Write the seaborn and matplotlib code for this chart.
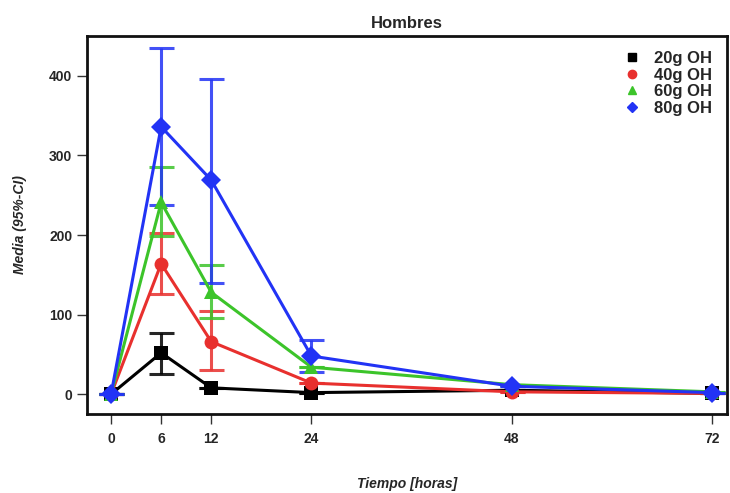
import numpy as np
import pandas as pd
import matplotlib
matplotlib.use("Agg")
import matplotlib.pyplot as plt
import seaborn as sns

hours = [0, 6, 12, 24, 48, 72]
groups = ["20g OH", "40g OH", "60g OH", "80g OH"]
mean_20 = [0, 52, 8, 2, 5, 1]
low_20 = [0, 26, 8, 2, 5, 1]
high_20 = [0, 77, 8, 2, 5, 1]
mean_40 = [0, 164, 66, 14, 3, 1]
low_40 = [0, 126, 30, 14, 3, 1]
high_40 = [0, 203, 104, 14, 3, 1]
mean_60 = [0, 241, 128, 34, 12, 3]
low_60 = [0, 199, 96, 34, 12, 3]
high_60 = [0, 285, 162, 34, 12, 3]
mean_80 = [0, 336, 269, 48, 10, 2]
low_80 = [0, 238, 140, 28, 10, 2]
high_80 = [0, 435, 396, 68, 10, 2]
colors = ["#000000", "#e8302e", "#3cc42a", "#2233f5"]
markers = ["s", "o", "^", "D"]

means = [mean_20, mean_40, mean_60, mean_80]
lows = [low_20, low_40, low_60, low_80]
highs = [high_20, high_40, high_60, high_80]

df = pd.DataFrame({
    "hora": hours * 4,
    "media": sum(means, []),
    "grupo": sum([[g] * len(hours) for g in groups], []),
})

sns.set_style("white")
plt.rcParams["font.family"] = ["Liberation Sans", "DejaVu Sans"]
fig = plt.figure(figsize=(7.30, 4.93), dpi=100)
ax = fig.add_axes([0.119, 0.16, 0.877, 0.767])

for g, m, lo, hi, c in zip(groups, means, lows, highs, colors):
    m = np.array(m); lo = np.array(lo); hi = np.array(hi)
    ax.errorbar(hours, m, yerr=[m - lo, hi - m], fmt="none", ecolor=c,
                elinewidth=2.2, capsize=9, capthick=2.2, alpha=0.85, zorder=2)

sns.lineplot(data=df, x="hora", y="media", hue="grupo", style="grupo",
             palette=colors, markers=markers, dashes=False, linewidth=2.2,
             markersize=10, markeredgewidth=0, ax=ax, legend=False, zorder=3)

handles = [plt.Line2D([], [], color=c, marker=mk, linestyle="none", markersize=6)
           for c, mk in zip(colors, markers)]
handles[3].set_markersize(5)
leg = ax.legend(handles, groups, loc="upper right", frameon=False,
                prop={"weight": "bold", "size": 12}, handletextpad=0.5,
                labelspacing=0.1, borderaxespad=0.5, handlelength=1.6)

ax.set_xlim(-2.9, 73.8)
ax.set_ylim(-25, 450)
ax.set_xticks(hours)
ax.set_yticks([0, 100, 200, 300, 400])
ax.tick_params(axis="both", direction="out", length=7, width=1, color="#333333",
               labelsize=10, bottom=True, left=True)
for lbl in ax.get_xticklabels() + ax.get_yticklabels():
    lbl.set_fontweight("bold")
ax.tick_params(axis="x", pad=6)
for s in ax.spines.values():
    s.set_linewidth(2)
    s.set_color("#111111")

ax.set_title("Hombres", fontweight="bold", fontsize=12, pad=6)
ax.set_xlabel("Tiempo [horas]", fontstyle="italic", fontweight="bold", fontsize=10)
ax.xaxis.set_label_coords(0.5, -0.165)
ax.set_ylabel("Media (95%-CI)", fontstyle="italic", fontweight="bold", fontsize=10, labelpad=16)

fig.savefig("out.png", dpi=100)
